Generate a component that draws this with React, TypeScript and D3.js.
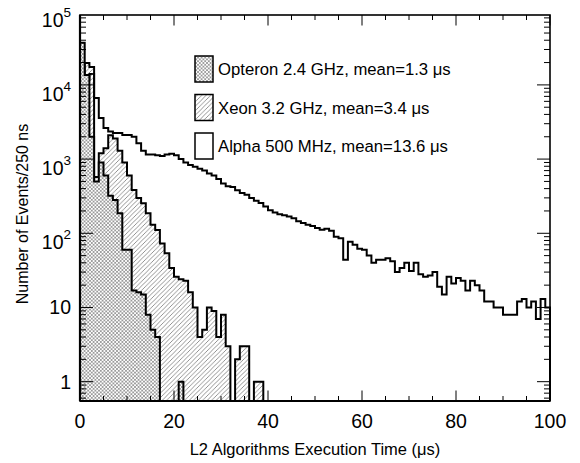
import React from "react";
import * as d3 from "d3";

// bin width: 1 µs (bins start at 0)
const opteron = [37000, 13600, 2000, 500, 900, 600, 320, 280, 186, 60, 60, 17, 16, 15, 8, 5, 4, 0, 0, 0, 0, 1];
const xeon = [0, 19700, 17400, 575, 1200, 1400, 2100, 1900, 1300, 900, 600, 384, 300, 254, 186, 130, 111, 73, 54, 34, 26, 24, 23, 16, 10, 4, 5, 10, 9, 4, 8, 3, 0, 2, 3, 3, 0, 1, 1];
const alpha = [0, 12000, 14000, 6660, 3580, 2620, 2350, 2250, 2250, 2120, 2120, 2000, 1640, 1300, 1150, 1150, 1130, 1100, 1150, 1180,
  1130, 1000, 900, 830, 790, 740, 700, 640, 600, 540, 470, 430, 420, 380, 350, 330, 300, 275, 256, 230,
  205, 190, 180, 175, 168, 160, 145, 138, 130, 125, 118, 112, 115, 108, 90, 86, 44, 77, 70, 62,
  60, 50, 40, 44, 44, 46, 42, 30, 34, 40, 31, 40, 28, 26, 27, 30, 19, 15, 26, 21,
  25, 23, 17, 23, 20, 17, 12, 12, 10, 10, 8, 8, 8, 12, 13, 10, 12, 7, 13, 10];

const xMajor = [0, 20, 40, 60, 80, 100];
const yMajor = [1, 10, 100, 1000, 10000, 100000];
const yLabelExp = ["", "", "2", "3", "4", "5"];
const yLabelBase = ["1", "10", "10", "10", "10", "10"];
const legendLabels = ["Opteron 2.4 GHz, mean=1.3 μs", "Xeon 3.2 GHz, mean=3.4 μs", "Alpha 500 MHz, mean=13.6 μs"];

const L = 80, R = 550, T = 15, B = 401;
const FONT = "'Liberation Sans', Arial, Helvetica, sans-serif";

export default function App() {
  const x = d3.scaleLinear().domain([0, 100]).range([L, R]);
  const y = d3.scaleLog().domain([0.549, 87500]).range([B, T]);
  const yv = (v: number) => (v <= 0 ? B : Math.min(B, Math.max(T, y(v))));

  const stairs = (vals: number[]) => {
    let d = `M${x(0)},${B}`;
    vals.forEach((v, i) => {
      d += `L${x(i)},${yv(v)}L${x(i + 1)},${yv(v)}`;
    });
    d += `L${x(vals.length)},${B}`;
    return d;
  };

  const xMinor = d3.range(0, 101, 5).filter((v) => v % 20 !== 0);
  const yMinor: number[] = [];
  for (let e = -1; e <= 4; e++) for (let k = 2; k <= 9; k++) {
    const v = k * Math.pow(10, e);
    if (v > 0.549 && v < 87500) yMinor.push(v);
  }

  const legY = [69, 107.5, 146];
  const legFill = ["url(#xhatch)", "url(#hatch)", "white"];

  return (
    <svg width={580} height={463} style={{ position: "absolute", left: 0, top: 0, background: "white" }} fontFamily={FONT}>
      <defs>
        <pattern id="xhatch" width={3.6} height={3.6} patternUnits="userSpaceOnUse">
          <rect width={3.6} height={3.6} fill="white" />
          <path d="M0,0L3.6,3.6M-1,2.6L1,4.6M2.6,-1L4.6,1M0,3.6L3.6,0M-1,1L1,-1M2.6,4.6L4.6,2.6" stroke="#666" strokeWidth={0.6} />
        </pattern>
        <pattern id="hatch" width={4.5} height={4.5} patternUnits="userSpaceOnUse">
          <path d="M0,4.5L4.5,0M-1,1L1,-1M3.5,5.5L5.5,3.5" stroke="#666" strokeWidth={0.7} fill="none" />
        </pattern>
      </defs>
      <rect x={0} y={0} width={580} height={463} fill="white" />

      <path d={stairs(alpha)} fill="none" stroke="black" strokeWidth={2} />
      <path d={stairs(xeon)} fill="url(#hatch)" stroke="black" strokeWidth={2} />
      <path d={stairs(opteron)} fill="url(#xhatch)" stroke="black" strokeWidth={2} />

      {/* frame */}
      <rect x={L} y={T} width={R - L} height={B - T} fill="none" stroke="black" strokeWidth={1.6} />
      <line x1={L} x2={R} y1={B} y2={B} stroke="black" strokeWidth={2.2} />
      <line x1={L} x2={L} y1={T} y2={B} stroke="black" strokeWidth={2.2} />

      {/* x ticks */}
      {xMajor.map((v) => (
        <g key={"xm" + v}>
          <line x1={x(v)} x2={x(v)} y1={B} y2={B - 10.5} stroke="black" strokeWidth={1} />
          <line x1={x(v)} x2={x(v)} y1={T} y2={T + 10.5} stroke="black" strokeWidth={1} />
          <text x={x(v)} y={428} fontSize={19.5} textAnchor="middle">{v}</text>
        </g>
      ))}
      {xMinor.map((v) => (
        <g key={"xn" + v}>
          <line x1={x(v)} x2={x(v)} y1={B} y2={B - 5} stroke="black" strokeWidth={1} />
          <line x1={x(v)} x2={x(v)} y1={T} y2={T + 5} stroke="black" strokeWidth={1} />
        </g>
      ))}

      {/* y ticks */}
      {yMajor.filter((v) => y(v) >= T - 0.5).map((v) => (
        <g key={"ym" + v}>
          <line x1={L} x2={L + 13} y1={y(v)} y2={y(v)} stroke="black" strokeWidth={1} />
          <line x1={R} x2={R - 13} y1={y(v)} y2={y(v)} stroke="black" strokeWidth={1} />
        </g>
      ))}
      {yMinor.map((v) => (
        <g key={"yn" + v}>
          <line x1={L} x2={L + 6} y1={y(v)} y2={y(v)} stroke="black" strokeWidth={1} />
          <line x1={R} x2={R - 6} y1={y(v)} y2={y(v)} stroke="black" strokeWidth={1} />
        </g>
      ))}
      {yMajor.map((v, i) => {
        const ty = y(v);
        if (yLabelExp[i] === "") {
          return (
            <text key={"yl" + v} x={71} y={ty + 7} fontSize={19.5} textAnchor="end">{yLabelBase[i]}</text>
          );
        }
        return (
          <text key={"yl" + v} x={71} y={ty + 16} fontSize={19.5} textAnchor="end">
            {yLabelBase[i]}
            <tspan fontSize={13.5} dy={-10}>{yLabelExp[i]}</tspan>
          </text>
        );
      })}

      {/* axis titles */}
      <text x={315} y={455} fontSize={16.5} textAnchor="middle">L2 Algorithms Execution Time (μs)</text>
      <text transform="translate(28,214) rotate(-90)" fontSize={16} textAnchor="middle">Number of Events/250 ns</text>

      {/* legend */}
      {legendLabels.map((lab, i) => (
        <g key={lab}>
          <rect x={195} y={legY[i] - 13} width={18} height={26} fill={legFill[i]} stroke="black" strokeWidth={1.5} />
          <text x={218} y={legY[i] + 6} fontSize={16.7}>{lab}</text>
        </g>
      ))}
    </svg>
  );
}
